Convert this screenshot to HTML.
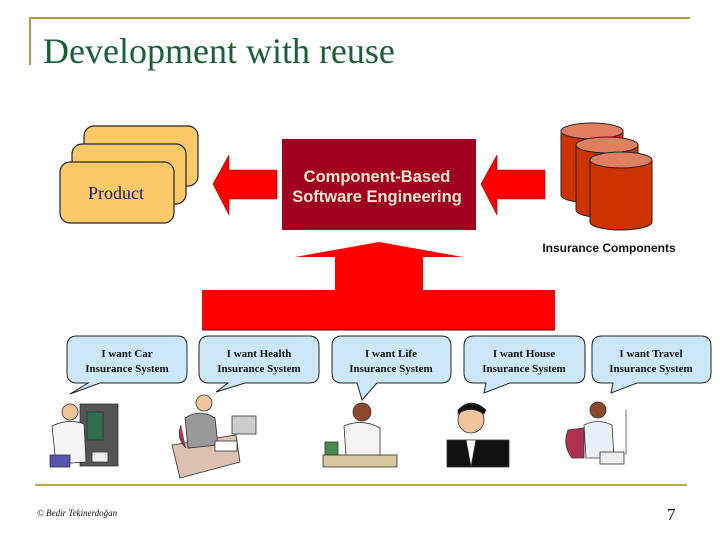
<!DOCTYPE html>
<html><head><meta charset="utf-8"><style>
body{margin:0;background:#fff}
svg{display:block}
</style></head><body>
<svg width="720" height="540" viewBox="0 0 720 540" xmlns="http://www.w3.org/2000/svg">
<rect width="720" height="540" fill="#fff"/>
<path d="M30 65 V18 H690" fill="none" stroke="#b39a3c" stroke-width="2"/>
<text x="43" y="63" font-family="Liberation Serif, serif" font-size="36" fill="#1a5e3a">Development with reuse</text>
<!-- product stack -->
<g stroke="#222" stroke-width="1.2" fill="#fcc96a">
<rect x="84" y="126" width="114" height="60" rx="10"/>
<rect x="72" y="144" width="114" height="60" rx="10"/>
<rect x="60" y="162" width="114" height="61" rx="10"/>
</g>
<text x="116" y="199" text-anchor="middle" font-family="Liberation Serif, serif" font-size="18" fill="#1a1a6a">Product</text>
<!-- left arrow -->
<polygon points="213,184 229,155 229,170 277,170 277,199 229,199 229,215" fill="#ff0000" stroke="#990000" stroke-width="0.6"/>
<!-- CBSE box -->
<rect x="282" y="139" width="194" height="91" fill="#a0001e"/>
<text x="377" y="182" text-anchor="middle" font-family="Liberation Sans, sans-serif" font-size="16.5" font-weight="bold" fill="#fbe8d0">Component-Based</text>
<text x="377" y="202" text-anchor="middle" font-family="Liberation Sans, sans-serif" font-size="16.5" font-weight="bold" fill="#fbe8d0">Software Engineering</text>
<!-- right arrow -->
<polygon points="481,184 497,155 497,170 545,170 545,199 497,199 497,215" fill="#ff0000" stroke="#990000" stroke-width="0.6"/>
<!-- cylinders -->
<g stroke="#222" stroke-width="1">
<path d="M561 131 V195 A31 8 0 0 0 623 195 V131" fill="#cc3300"/><ellipse cx="592" cy="131" rx="31" ry="8" fill="#e08060"/>
<path d="M576 145 V210 A31 8 0 0 0 638 210 V145" fill="#cc3300"/><ellipse cx="607" cy="145" rx="31" ry="8" fill="#e08060"/>
<path d="M590 160 V222 A31 8 0 0 0 652 222 V160" fill="#cc3300"/><ellipse cx="621" cy="160" rx="31" ry="8" fill="#e08060"/>
</g>
<text x="609" y="252" text-anchor="middle" font-family="Liberation Sans, sans-serif" font-size="12" font-weight="bold" fill="#111">Insurance Components</text>
<!-- up arrow -->
<polygon points="379,242 463,257 423,257 423,290 555,290 555,330 202,330 202,290 335,290 335,257 295,257" fill="#ff0000"/>
<line x1="202" y1="330" x2="555" y2="330" stroke="#660000" stroke-width="1"/>
<!-- bubbles -->
<g fill="#cce8f8" stroke="#222" stroke-width="1">
<path d="M77 336 H177 Q187 336 187 346 V373 Q187 383 177 383 H100 L70 394 L88 383 H77 Q67 383 67 373 V346 Q67 336 77 336Z"/>
<path d="M209 336 H309 Q319 336 319 346 V373 Q319 383 309 383 H245 L216 392 L228 383 H209 Q199 383 199 373 V346 Q199 336 209 336Z"/>
<path d="M342 336 H441 Q451 336 451 346 V373 Q451 383 441 383 H377 L362 400 L357 383 H342 Q332 383 332 373 V346 Q332 336 342 336Z"/>
<path d="M474 336 H575 Q585 336 585 346 V373 Q585 383 575 383 H510 L484 393 L486 383 H474 Q464 383 464 373 V346 Q464 336 474 336Z"/>
<path d="M602 336 H701 Q711 336 711 346 V373 Q711 383 701 383 H637 L611 393 L613 383 H602 Q592 383 592 373 V346 Q592 336 602 336Z"/>
</g>
<g font-family="Liberation Serif, serif" font-size="11" font-weight="bold" fill="#111" text-anchor="middle">
<text x="127" y="357">I want Car</text><text x="127" y="372">Insurance System</text>
<text x="259" y="357">I want Health</text><text x="259" y="372">Insurance System</text>
<text x="391" y="357">I want Life</text><text x="391" y="372">Insurance System</text>
<text x="524" y="357">I want House</text><text x="524" y="372">Insurance System</text>
<text x="651" y="357">I want Travel</text><text x="651" y="372">Insurance System</text>
</g>
<!-- figures (simplified clipart) -->
<g stroke="#333" stroke-width="0.8">
<!-- car -->
<rect x="80" y="404" width="38" height="62" fill="#555"/><rect x="87" y="412" width="16" height="28" fill="#2d6e4e"/>
<circle cx="70" cy="412" r="8" fill="#f2c49c"/><path d="M52 426 Q68 418 84 424 L86 462 L56 464Z" fill="#f4f4f4"/>
<rect x="50" y="455" width="20" height="12" fill="#5557aa"/><rect x="92" y="452" width="16" height="10" fill="#eee"/>
<!-- health -->
<path d="M172 445 L236 435 L240 462 L180 478Z" fill="#dcc0b0"/><path d="M185 418 Q200 408 215 418 L218 445 L188 448Z" fill="#999"/>
<circle cx="204" cy="403" r="8" fill="#f2c49c"/><rect x="232" y="416" width="24" height="18" fill="#ccc"/>
<rect x="215" y="441" width="22" height="10" fill="#fff"/><path d="M181 425 Q176 438 186 448" fill="#b03050"/>
<!-- life -->
<rect x="323" y="455" width="74" height="12" fill="#d8c8a0"/><circle cx="362" cy="412" r="9" fill="#8a4a2a"/>
<path d="M344 426 Q362 418 380 428 L380 455 L346 455Z" fill="#f4f4f4"/><rect x="325" y="442" width="13" height="13" fill="#4a8a4a"/>
<!-- house -->
<rect x="447" y="440" width="62" height="27" fill="#111"/><circle cx="471" cy="420" r="13" fill="#f2c49c"/>
<path d="M458 410 Q471 396 486 410 L484 414 Q470 405 458 414Z" fill="#111"/><path d="M466 440 L471 467 L476 440Z" fill="#fff"/>
<!-- travel -->
<circle cx="598" cy="410" r="8" fill="#8a4a2a"/><path d="M584 425 Q598 418 612 425 L614 458 L586 458Z" fill="#e8f0f8"/>
<path d="M568 430 Q562 445 572 458 L584 458 L584 428Z" fill="#b03050"/><rect x="600" y="452" width="24" height="12" fill="#eee"/>
<line x1="626" y1="410" x2="626" y2="455" stroke="#555"/>
</g>
<line x1="35" y1="485" x2="687" y2="485" stroke="#b9a94a" stroke-width="2"/>
<text x="37" y="516" font-family="Liberation Serif, serif" font-style="italic" font-size="9" fill="#111">© Bedir Tekinerdoğan</text>
<text x="667" y="520" font-family="Liberation Serif, serif" font-size="17" fill="#111">7</text>
</svg>
</body></html>
